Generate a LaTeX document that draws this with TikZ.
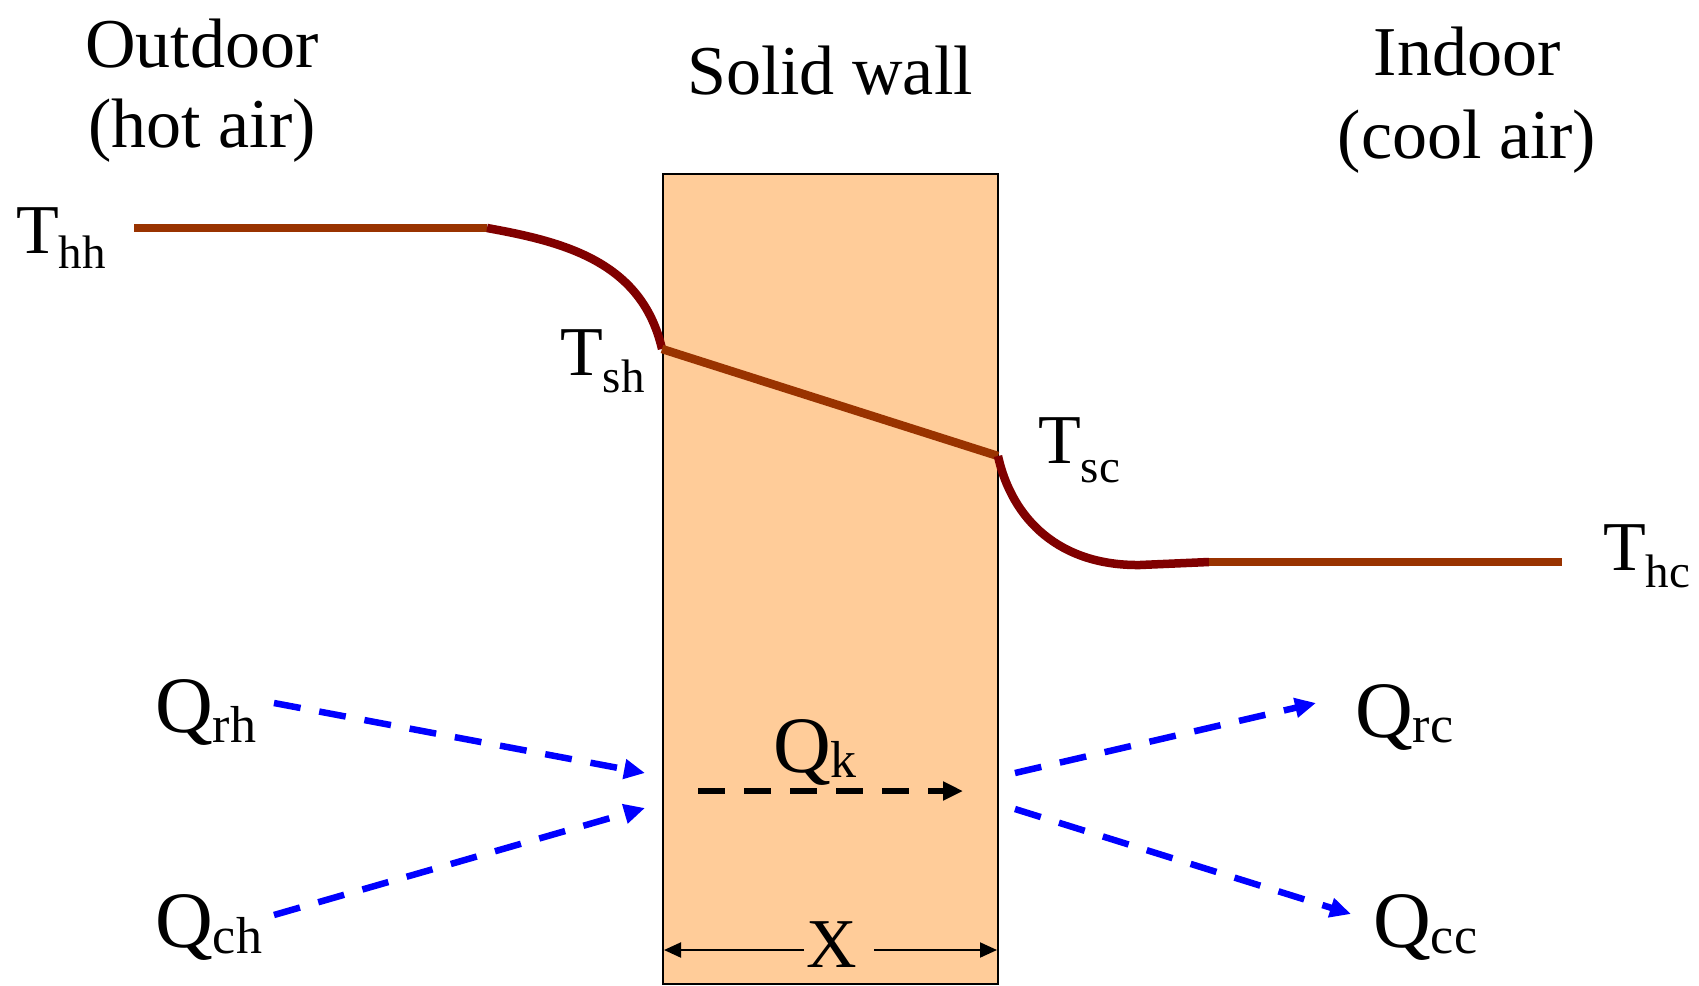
\documentclass[tikz,border=0pt]{standalone}
\usepackage{fontspec}
\setmainfont{Liberation Serif}
\usetikzlibrary{arrows.meta}
\definecolor{brn}{HTML}{993300}
\definecolor{mrn}{HTML}{800000}
\definecolor{wallfill}{HTML}{FFCC99}
\definecolor{qblue}{HTML}{0000FF}
\newcommand\Tlab[2]{T\raisebox{-#1pt}{\fontsize{47}{47}\selectfont #2}}
\newcommand\Qlab[2]{{\fontsize{80}{84}\selectfont Q}\raisebox{-#1pt}{\fontsize{52}{52}\selectfont #2}}
\begin{document}
\begin{tikzpicture}[x=1pt,y=-1pt,
  txt/.style={inner sep=0pt, font=\fontsize{70}{80}\selectfont},
  wallbox/.style={draw=black, line width=2pt, fill=wallfill, minimum width=335pt, minimum height=810pt, inner sep=0pt},
  profile/.style={line width=8.5pt},
  flux/.style={line width=6.5pt, qblue, dash pattern=on 27pt off 19pt, -{Triangle[length=21pt,width=19pt]}},
  cond/.style={line width=6pt, black, dash pattern=on 27pt off 19pt, -{Triangle[length=20pt,width=18pt]}},
  dim/.style={line width=2pt, black, -{Triangle[length=17pt,width=15pt]}}]
\useasboundingbox (0,0) rectangle (1699,985);

% wall
\node[wallbox] (wall) at (830.5,579) {};

% headings
\node[txt,anchor=base] (out1) at (202,67) {Outdoor};
\node[txt,anchor=base] (out2) at (202,147) {(hot air)};
\node[txt,anchor=base] (wallt) at (830,94) {Solid wall};
\node[txt,anchor=base] (in1) at (1467,75) {Indoor};
\node[txt,anchor=base] (in2) at (1467,158) {(cool air)};

% temperature profile
\coordinate (hh0) at (134,228);
\coordinate (hh1) at (487,228);
\coordinate (sh) at (662,349);
\coordinate (sc) at (998,456);
\coordinate (hc0) at (1140,565);
\coordinate (hc1) at (1209,562);
\coordinate (hc2) at (1562,562);
\draw[profile,brn] (hh0) -- (hh1);
\draw[profile,mrn] (hh1) .. controls (565,242) and (642,262) .. (sh);
\draw[profile,brn] (sh) -- (sc);
\draw[profile,mrn] (sc) .. controls (1012,520) and (1060,566) .. (hc0) -- (hc1);
\draw[profile,brn] (hc1) -- (hc2);

% temperature labels
\node[txt,anchor=base west] (Thh) at (16,253) {\Tlab{15}{hh}};
\node[txt,anchor=base west] (Tsh) at (560,375) {\Tlab{17}{sh}};
\node[txt,anchor=base west] (Tsc) at (1038,463) {\Tlab{19}{sc}};
\node[txt,anchor=base west] (Thc) at (1603,570) {\Tlab{17}{hc}};

% heat flux labels
\node[txt,anchor=base west] (Qrh) at (155,732) {\Qlab{10}{rh}};
\node[txt,anchor=base west] (Qch) at (155,947) {\Qlab{6}{ch}};
\node[txt,anchor=base west] (Qk) at (773,772) {\Qlab{5}{k}};
\node[txt,anchor=base west] (Qrc) at (1355,737) {\Qlab{5}{rc}};
\node[txt,anchor=base west] (Qcc) at (1373,947) {\Qlab{6}{cc}};

% heat flux arrows
\coordinate (qrhA) at (274,703);
\coordinate (qrhB) at (645,773);
\coordinate (qchA) at (274,915);
\coordinate (qchB) at (645,808);
\coordinate (qrcA) at (1015,773);
\coordinate (qrcB) at (1316,703);
\coordinate (qccA) at (1015,809);
\coordinate (qccB) at (1351,914);
\coordinate (qkA) at (698,791);
\coordinate (qkB) at (963,791);
\draw[flux] (qrhA) -- (qrhB);
\draw[flux] (qchA) -- (qchB);
\draw[flux] (qrcA) -- (qrcB);
\draw[flux] (qccA) -- (qccB);
\draw[cond] (qkA) -- (qkB);

% thickness dimension
\node[txt,anchor=base] (X) at (832,967) {X};
\coordinate (xa) at (804,950);
\coordinate (xb) at (874,950);
\coordinate (dimL) at (664,950);
\coordinate (dimR) at (997,950);
\draw[dim] (xa) -- (dimL);
\draw[dim] (xb) -- (dimR);
\end{tikzpicture}
\end{document}
